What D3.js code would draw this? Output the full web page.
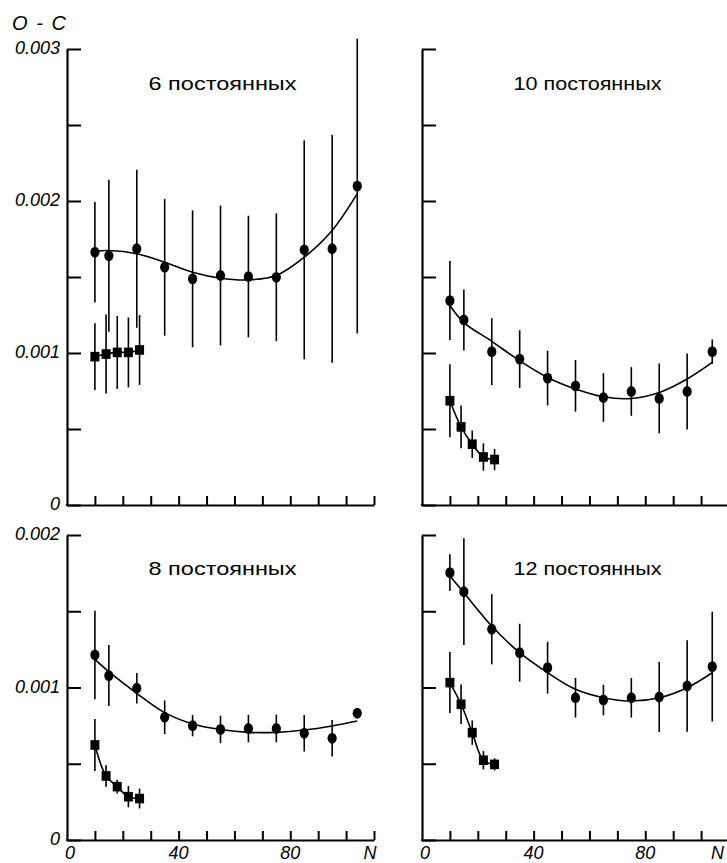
<!DOCTYPE html>
<html>
<head>
<meta charset="utf-8">
<script src="https://cdn.jsdelivr.net/npm/d3@7"></script>
<style>
  html, body { margin: 0; padding: 0; background: #fff; }
  svg { display: block; }
  text { font-family: "Liberation Sans", Arial, sans-serif; fill: #000; }
</style>
</head>
<body>
<script>
// ---------- DATA (values in units of 10^-3) ----------
const nCircles = [10, 15, 25, 35, 45, 55, 65, 75, 85, 95, 104];
const nSquares = [10, 14, 18, 22, 26];
const nFit     = [10, 15, 25, 35, 45, 55, 65, 75, 85, 95, 104];

const titles = ["6 постоянных", "10 постоянных", "8 постоянных", "12 постоянных"];

const circ6    = [1.663, 1.640, 1.686, 1.564, 1.488, 1.510, 1.503, 1.498, 1.679, 1.686, 2.098];
const circ6Err = [0.33, 0.50, 0.52, 0.45, 0.45, 0.46, 0.40, 0.42, 0.72, 0.75, 0.97];
const fit6     = [1.670, 1.674, 1.653, 1.597, 1.531, 1.492, 1.481, 1.510, 1.630, 1.806, 2.048];
const sq6      = [0.976, 0.993, 1.004, 1.004, 1.020];
const sq6Err   = [0.22, 0.26, 0.24, 0.23, 0.23];

const circ10    = [1.345, 1.217, 1.009, 0.960, 0.835, 0.784, 0.707, 0.747, 0.701, 0.747, 1.009];
const circ10Err = [0.26, 0.20, 0.22, 0.19, 0.18, 0.17, 0.16, 0.16, 0.23, 0.25, 0.08];
const fit10     = [1.312, 1.200, 1.077, 0.949, 0.839, 0.763, 0.712, 0.701, 0.740, 0.829, 0.938];
const sq10      = [0.686, 0.514, 0.400, 0.316, 0.299];
const sq10Err   = [0.24, 0.14, 0.09, 0.09, 0.07];

const circ8    = [1.213, 1.078, 0.995, 0.805, 0.750, 0.725, 0.731, 0.731, 0.700, 0.667, 0.831];
const circ8Err = [0.29, 0.20, 0.10, 0.11, 0.07, 0.09, 0.09, 0.09, 0.12, 0.12, 0.0];
const fit8     = [1.185, 1.104, 0.962, 0.835, 0.761, 0.725, 0.706, 0.706, 0.721, 0.748, 0.780];
const sq8      = [0.623, 0.420, 0.350, 0.284, 0.272];
const sq8Err   = [0.17, 0.07, 0.045, 0.07, 0.065];

const circ12    = [1.753, 1.628, 1.382, 1.228, 1.130, 0.933, 0.918, 0.933, 0.938, 1.010, 1.137];
const circ12Err = [0.12, 0.35, 0.23, 0.19, 0.17, 0.13, 0.10, 0.13, 0.23, 0.30, 0.36];
const fit12     = [1.731, 1.622, 1.403, 1.228, 1.097, 0.988, 0.933, 0.911, 0.933, 0.999, 1.097];
const sq12      = [1.032, 0.890, 0.704, 0.523, 0.496];
const sq12Err   = [0.20, 0.13, 0.08, 0.06, 0.04];

const xTickValues  = [10, 20, 30, 40, 50, 60, 70, 80, 90, 100, 110];
const xLabelValues = [0, 40, 80, 110];
const xLabels      = ["0", "40", "80", "N"];
const yTicksTop    = [0, 0.5, 1, 1.5, 2, 2.5, 3];
const yTicksBottom = [0, 0.5, 1, 1.5, 2];
const yLabelValuesTop    = [3, 2, 1, 0];
const yLabelsTop         = ["0.003", "0.002", "0.001", "0"];
const yLabelValuesBottom = [2, 1, 0];
const yLabelsBottom      = ["0.002", "0.001", "0"];
const yAxisTitle = "O - C";

// ---------- LAYOUT ----------
const W = 727, H = 863;
const colRanges = [[67, 374], [422, 729]];
const rowCfg = [
  { range: [505, 49], domain: [0, 3], ticks: yTicksTop, labV: yLabelValuesTop, lab: yLabelsTop, titleY: 90 },
  { range: [840, 535], domain: [0, 2], ticks: yTicksBottom, labV: yLabelValuesBottom, lab: yLabelsBottom, titleY: 575 }
];
const titleCenters = [222.5, 587.5];

const panels = [
  { title: titles[0], circ: circ6,  circErr: circ6Err,  fit: fit6,  sq: sq6,  sqErr: sq6Err,  col: 0, row: 0 },
  { title: titles[1], circ: circ10, circErr: circ10Err, fit: fit10, sq: sq10, sqErr: sq10Err, col: 1, row: 0 },
  { title: titles[2], circ: circ8,  circErr: circ8Err,  fit: fit8,  sq: sq8,  sqErr: sq8Err,  col: 0, row: 1 },
  { title: titles[3], circ: circ12, circErr: circ12Err, fit: fit12, sq: sq12, sqErr: sq12Err, col: 1, row: 1 }
];

const svg = d3.select("body").append("svg")
  .attr("width", W).attr("height", H)
  .attr("viewBox", `0 0 ${W} ${H}`);

svg.append("text")
  .attr("x", 12).attr("y", 30)
  .attr("font-size", 20).attr("font-style", "italic")
  .attr("textLength", 54).attr("lengthAdjust", "spacing")
  .text(yAxisTitle);

panels.forEach(p => {
  const rc = rowCfg[p.row];
  const x = d3.scaleLinear().domain([0, 110]).range(colRanges[p.col]);
  const y = d3.scaleLinear().domain(rc.domain).range(rc.range);
  const g = svg.append("g");

  // axes
  const yAx = g.append("g")
    .attr("transform", `translate(${x(0)},0)`)
    .call(d3.axisRight(y).tickValues(rc.ticks).tickSize(14).tickSizeOuter(0).tickFormat(""));
  const xAx = g.append("g")
    .attr("transform", `translate(0,${y(0)})`)
    .call(d3.axisTop(x).tickValues(xTickValues).tickSize(9).tickSizeOuter(0).tickFormat(""));
  [yAx, xAx].forEach(a => {
    a.selectAll("path.domain").attr("stroke", "#000").attr("stroke-width", 2.2);
    a.selectAll(".tick line").attr("stroke", "#000").attr("stroke-width", 2);
  });
  g.append("line")
    .attr("x1", x(0) - 1.1).attr("x2", x(0) + 1.1)
    .attr("y1", y(0)).attr("y2", y(0))
    .attr("stroke", "#000").attr("stroke-width", 2.2);

  // y labels (left column only)
  if (p.col === 0) {
    g.selectAll("text.ylab").data(rc.labV).enter().append("text")
      .attr("class", "ylab")
      .attr("x", x(0) - 7).attr("y", d => y(d) + 5)
      .attr("text-anchor", "end")
      .attr("font-size", 18).attr("font-style", "italic")
      .text((d, i) => rc.lab[i]);
  }
  // x labels (bottom row only)
  if (p.row === 1) {
    g.selectAll("text.xlab").data(xLabelValues).enter().append("text")
      .attr("class", "xlab")
      .attr("x", (d, i) => {
        if (i === 3 && p.col === 1) return Math.min(x(d) - 4, W - 3);
        return x(d) + (i === 0 ? 3 : (i === 3 ? -4 : 0));
      })
      .attr("y", 859)
      .attr("text-anchor", (d, i) => (i === 3 && p.col === 1) ? "end" : "middle")
      .attr("font-size", 18).attr("font-style", "italic")
      .text((d, i) => xLabels[i]);
  }

  // title
  g.append("text")
    .attr("x", titleCenters[p.col]).attr("y", rc.titleY)
    .attr("text-anchor", "middle")
    .attr("font-size", 19)
    .attr("textLength", 148).attr("lengthAdjust", "spacingAndGlyphs")
    .text(p.title);

  // error bars
  const circData = nCircles.map((n, i) => ({ n, v: p.circ[i], e: p.circErr[i] }));
  const sqData = nSquares.map((n, i) => ({ n, v: p.sq[i], e: p.sqErr[i] }));
  g.selectAll("line.ec").data(circData.filter(d => d.e > 0)).enter().append("line")
    .attr("x1", d => x(d.n)).attr("x2", d => x(d.n))
    .attr("y1", d => y(d.v - d.e)).attr("y2", d => y(d.v + d.e))
    .attr("stroke", "#000").attr("stroke-width", 1.6);
  g.selectAll("line.es").data(sqData).enter().append("line")
    .attr("x1", d => x(d.n)).attr("x2", d => x(d.n))
    .attr("y1", d => y(d.v - d.e)).attr("y2", d => y(d.v + d.e))
    .attr("stroke", "#000").attr("stroke-width", 1.6);

  // fit curve
  const line = d3.line().x(d => x(d[0])).y(d => y(d[1])).curve(d3.curveCatmullRom.alpha(0.5));
  g.append("path")
    .attr("d", line(nFit.map((n, i) => [n, p.fit[i]])))
    .attr("fill", "none").attr("stroke", "#000").attr("stroke-width", 1.6);
  g.append("path")
    .attr("d", line(nSquares.map((n, i) => [n, p.sq[i]])))
    .attr("fill", "none").attr("stroke", "#000").attr("stroke-width", 1.6);

  // markers
  g.selectAll("ellipse.c").data(circData).enter().append("ellipse")
    .attr("cx", d => x(d.n)).attr("cy", d => y(d.v))
    .attr("rx", 4.6).attr("ry", 5.4).attr("fill", "#000");
  g.selectAll("rect.s").data(sqData).enter().append("rect")
    .attr("x", d => x(d.n) - 4.5).attr("y", d => y(d.v) - 4.8)
    .attr("width", 9).attr("height", 9.6).attr("fill", "#000");
});
</script>
</body>
</html>
